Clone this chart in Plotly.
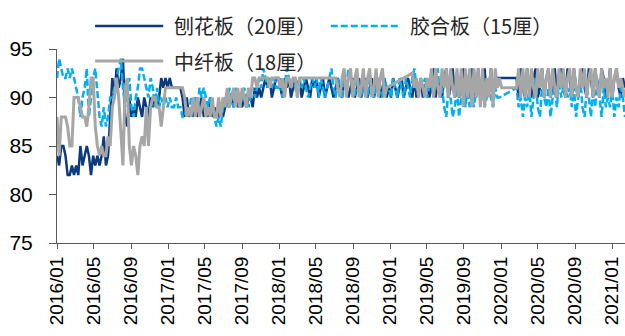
import pandas as pd
import plotly.graph_objects as go

# Weekly prices (index), one list per year, grouped by month (4/4/5 weeks per quarter).
# None marks weeks with no quote (holiday breaks).

tick_labels = ["2016/01", "2016/05", "2016/09", "2017/01", "2017/05", "2017/09",
               "2018/01", "2018/05", "2018/09", "2019/01", "2019/05", "2019/09",
               "2020/01", "2020/05", "2020/09", "2021/01"]

series_names = ["刨花板（20厘）", "胶合板（15厘）", "中纤板（18厘）"]

# 刨花板（20厘）
pb_2016 = [84, 83, 85, 85,  84, 82, 82, 83,  82, 83, 82, 85, 83,
           84, 85, 84, 82,  84, 83, 84, 83,  84, 86, 83, 84, 88,
           92, 90, 93, 91,  92, 94, 88, 87,  90, 88, 89, 88, 90,
           89, 88, 90, 89,  88, 90, 89, 90,  89, 90, 92, 91, 92]
pb_2017 = [91, 92, 91, 91,  91, 91, 91, 90,  88, 90, 88, 89, 88,
           90, 88, 89, 90,  88, 89, 88, 90,  88, 89, 88, 88, 89,
           88, 89, 90, 89,  90, 89, 90, 89,  90, 89, 90, 89, 90,
           90, 89, 91, 90,  91, 90, 91, 92,  91, 92, 90, 91, 92]
pb_2018 = [92, 91, 90, 92,  91, 92, 90, 91,  92, 91, 92, 90, 91,
           92, 91, 90, 92,  91, 92, 90, 91,  92, 90, 91, 92, 91,
           90, 91, 92, 91,  90, 92, 91, 90,  91, 92, 90, 91, 92,
           90, 91, 92, 90,  91, 92, 90, 91,  92, 90, 91, 92, 90]
pb_2019 = [91, 90, 92, 91,  90, 91, 92, 90,  91, 92, 91, 90, 92,
           90, 91, 92, 90,  91, 92, 90, 91,  93, 90, 92, 91, 90,
           92, 93, 90, 91,  93, 90, 92, 90,  91, 93, 90, 92, 90,
           93, 91, 90, 93,  90, 92, 93, 90,  91, 93, 90, 92, 92]
pb_2020 = [None, None, None, None,  None, None, None, None,  92, 90, 93, 91, 90,
           93, 91, 90, 92,  93, 90, 91, 93,  90, 92, 93, 90, 91,
           93, 90, 92, 93,  91, 90, 93, 92,  90, 93, 91, 90, 92,
           93, 91, 90, 93,  92, 90, 93, 91,  90, 93, 92, 90, 91]
pb_2021 = [93, 90, 92, 93,  91, 90, 92, 91]

# 胶合板（15厘）
pw_2016 = [92, 94, 93, 92,  92, 93, 92, 93,  92, 91, 90, 88, 90,
           91, 93, 88, 90,  92, 93, 90, 88,  87, 89, 87, 88, 90,
           90, 91, 92, 93,  94, 91, 89, 91,  92, 89, 88, 90, 91,
           93, 93, 92, 91,  90, 92, 91, 89,  91, 89, 90, 89, 90]
pw_2017 = [89, 90, 89, 89,  90, 89, 89, 88,  88, 89, 88, 90, 89,
           90, 89, 91, 90,  91, 90, 89, 90,  89, 88, 87, 88, 87,
           89, 90, 89, 91,  90, 89, 91, 90,  89, 90, 91, 90, 89,
           90, 91, 90, 91,  92, 91, 93, 92,  91, 92, 91, 92, 91]
pw_2018 = [91, 92, 90, 91,  93, 92, 91, 92,  91, 90, 92, 91, 92,
           91, 90, 91, 92,  91, 92, 90, 92,  91, 90, 91, 92, 93,
           91, 90, 92, 91,  90, 92, 91, 93,  92, 91, 90, 92, 91,
           90, 92, 91, 90,  92, 91, 90, 91,  92, 91, 90, 92, 91]
pw_2019 = [91, 90, 92, 91,  90, 92, 91, 90,  92, 91, 90, 92, 93,
           91, 90, 92, 91,  92, 90, 91, 92,  90, 92, 93, 90, 91,
           89, 88, 91, 90,  88, 89, 91, 88,  90, 92, 89, 91, 89,
           90, 89, 91, 92,  90, 91, 89, 90,  91, 90, 89, 91, 90]
pw_2020 = [90, None, None, None,  None, None, None, None,  91, 89, 90, 88, 90,
           89, 91, 88, 90,  92, 89, 88, 91,  90, 89, 91, 88, 90,
           91, 89, 92, 90,  91, 92, 90, 91,  89, 91, 88, 90, 92,
           89, 88, 91, 90,  88, 91, 89, 92,  90, 88, 91, 89, 90]
pw_2021 = [89, 91, 88, 90,  89, 91, 90, 88]

# 中纤板（18厘）
mdf_2016 = [88, 84, 88, 88,  88, 87, 85, 85,  90, 90, 90, 89, 88,
            88, 87, 89, 92,  92, 87, 85, 84,  85, 84, 84, 86, 85,
            89, 90, 92, 90,  86, 83, 91, 92,  85, 83, 85, 84, 82,
            85, 86, 85, 89,  85, 89, 90, 90,  89, 89, 87, 89, 91]
mdf_2017 = [91, 91, 91, 91,  91, 91, 91, 91,  90, 88, 89, 88, 90,
            88, 90, 88, 89,  90, 88, 89, 88,  90, 88, 88, 90, 88,
            90, 89, 91, 89,  90, 91, 89, 91,  89, 91, 90, 89, 91,
            90, 92, 92, 91,  92, 92, 92, 92,  92, 91, 92, 92, 92]
mdf_2018 = [92, 91, 92, 90,  92, 92, 91, 92,  92, 90, 92, 92, 92,
            92, 92, 92, 92,  92, 92, 92, 92,  92, 92, 92, 92, 92,
            92, 92, 91, 90,  92, 93, 90, 92,  93, 90, 92, 93, 90,
            91, 93, 90, 92,  93, 90, 91, 93,  90, 92, 93, 90, 91]
mdf_2019 = [None, None, None, None,  None, None, None, None,  None, None, None, 92.5, 91,
            92, 90, 92, 91,  90, 92, 91, 93,  90, 93, 91, 90, 93,
            91, 93, 90, 93,  91, 90, 93, 90,  93, 89, 93, 90, 93,
            89, 93, 90, 93,  89, 93, 89, 92,  90, 93, 89, 93, 91]
mdf_2020 = [92, 91, None, None,  None, None, None, None,  91, 93, 90, 93, 90,
            93, 90, 93, 91,  90, 93, 91, 93,  90, 92, 93, 90, 93,
            91, 90, 93, 91,  93, 90, 92, 93,  90, 93, 91, 90, 93,
            91, 93, 90, 92,  93, 90, 93, 91,  90, 93, 91, 92, 90]
mdf_2021 = [93, 90, 92, 93,  91, 92, 91, 90]

pb = pb_2016 + pb_2017 + pb_2018 + pb_2019 + pb_2020 + pb_2021
pw = pw_2016 + pw_2017 + pw_2018 + pw_2019 + pw_2020 + pw_2021
mdf = mdf_2016 + mdf_2017 + mdf_2018 + mdf_2019 + mdf_2020 + mdf_2021

weeks = pd.date_range("2016-01-01", periods=len(pb), freq="7D")
tick_dates = [pd.to_datetime(t, format="%Y/%m") for t in tick_labels]

colors = ["#0B3A7E", "#00B0F0", "#A6A6A6"]
widths = [2.5, 2.5, 3]
dashes = ["solid", "7px,3px", "solid"]

fig = go.Figure()
for name, vals, col, w, d in zip(series_names, [pb, pw, mdf], colors, widths, dashes):
    fig.add_trace(go.Scatter(
        x=weeks, y=vals, name=name, mode="lines",
        line=dict(color=col, width=w, dash=d),
        connectgaps=True, showlegend=False,
    ))

# Legend: two columns, drawn as key lines plus labels above the plot
legend_rows = [(1.119, 0.067, 0.187, 0.2025), (1.119, 0.482, 0.604, 0.618), (0.938, 0.067, 0.187, 0.2025)]
for (yy, x0, x1, xt), name, col, w, d in zip(legend_rows, series_names, colors, widths, dashes):
    fig.add_shape(type="line", xref="paper", yref="paper", x0=x0, x1=x1, y0=yy, y1=yy,
                  line=dict(color=col, width=w, dash=d), layer="above")
    fig.add_annotation(x=xt, y=yy, xref="paper", yref="paper", text=name,
                       showarrow=False, xanchor="left", yanchor="middle",
                       font=dict(size=20, color="#262626",
                                 family="Noto Sans CJK SC, Liberation Sans, sans-serif"))

fig.update_layout(
    width=625, height=336,
    margin=dict(l=57, r=0, t=49, b=93),
    paper_bgcolor="white", plot_bgcolor="white",
    font=dict(family="Liberation Sans, Arial, sans-serif", color="#000000"),
)
fig.update_xaxes(
    range=[weeks[0], weeks[-1]],
    tickvals=tick_dates, ticktext=tick_labels, tickangle=-90,
    tickfont=dict(size=19),
    showline=True, linecolor="#595959", linewidth=1,
    ticks="outside", ticklen=5, tickcolor="#595959",
    showgrid=False, zeroline=False,
)
fig.update_yaxes(
    range=[75, 95], tickvals=[75, 80, 85, 90, 95],
    tickfont=dict(size=21), ticklabelstandoff=12,
    showline=True, linecolor="#595959", linewidth=1,
    ticks="outside", ticklen=7, tickcolor="#595959",
    showgrid=False, zeroline=False,
)

fig.write_html("out.html", config={"displayModeBar": False})
